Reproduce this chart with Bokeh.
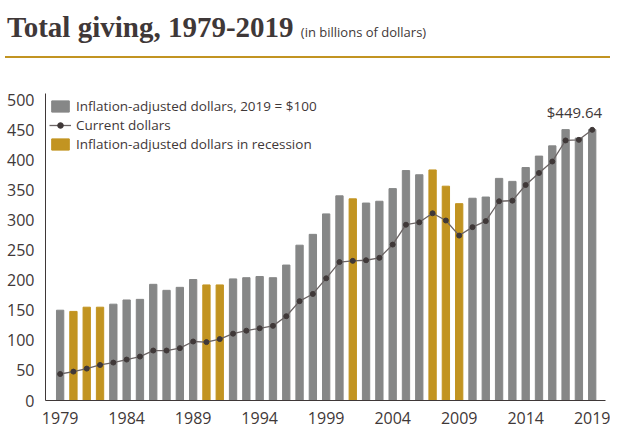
from bokeh.plotting import figure
from bokeh.models import Div, ColumnDataSource, Legend, LegendItem, FixedTicker, Label
from bokeh.layouts import column
from bokeh.embed import file_html
from bokeh.resources import INLINE

years = list(range(1979, 2020))
inflation_adjusted = [150, 148, 155, 155, 160, 167, 168, 193, 183, 188, 201, 192, 192, 202, 204, 206, 204, 225, 258, 276, 310, 340, 335, 328, 331, 352, 382, 375, 383, 356, 327, 336, 338, 369, 364, 387, 406, 423, 450, 436, 450]
current_dollars = [44, 48, 53, 59, 63, 68, 73, 83, 83, 87, 98, 97, 102, 111, 116, 120, 124, 140, 165, 177, 203, 230, 232, 233, 237, 259, 292, 296, 311, 299, 274, 288, 298, 331, 332, 358, 378, 397, 432, 433, 449.64]
recession_years = [1980, 1981, 1982, 1990, 1991, 2001, 2007, 2008, 2009]
tick_years = [1979, 1984, 1989, 1994, 1999, 2004, 2009, 2014, 2019]

GRAY = "#868787"
GOLD = "#c29421"
DARK = "#3f3838"

normal = [(y, v) for y, v in zip(years, inflation_adjusted) if y not in recession_years]
rec = [(y, v) for y, v in zip(years, inflation_adjusted) if y in recession_years]

title = Div(text='<div style="font-family:\'Liberation Serif\',serif;font-weight:bold;font-size:29px;color:#3f3838;padding-left:2px;margin-top:2px;">'
            'Total giving, 1979-2019 <span style="font-family:\'Open Sans\';font-weight:normal;font-size:13px;">(in billions of dollars)</span></div>'
            '<div style="border-top:2px solid #c29421;margin-top:8px;width:605px;"></div>',
            width=610, height=78)

p = figure(width=610, height=338, x_range=(1977.9, 2020), y_range=(0, 510),
           output_backend="svg", toolbar_location=None, min_border_left=45, min_border_top=5)
p.outline_line_color = None
p.grid.grid_line_color = None

b1 = p.vbar(x=[a for a, b in normal], top=[b for a, b in normal], width=0.55, color=GRAY)
b2 = p.vbar(x=[a for a, b in rec], top=[b for a, b in rec], width=0.55, color=GOLD)
l = p.line(years, current_dollars, color="#6b6464", line_width=1.3)
s = p.scatter(years, current_dollars, size=5, color=DARK)

p.add_layout(Label(x=2019, y=462, text="$449.64", text_align="right", x_offset=10,
                   text_font="Open Sans", text_font_size="15px", text_color=DARK))

legend = Legend(items=[LegendItem(label="Inflation-adjusted dollars, 2019 = $100", renderers=[b1]),
                       LegendItem(label="Current dollars", renderers=[l, s]),
                       LegendItem(label="Inflation-adjusted dollars in recession", renderers=[b2])],
                location="top_left", border_line_color=None, background_fill_alpha=0,
                label_text_font="Open Sans", label_text_font_size="13.5px", label_text_color=DARK,
                spacing=1, glyph_height=14, glyph_width=22, label_height=15, padding=0, margin=4)
p.add_layout(legend)

p.xaxis.ticker = FixedTicker(ticks=tick_years)
p.yaxis.ticker = FixedTicker(ticks=list(range(0, 501, 50)))
for ax in (p.xaxis, p.yaxis):
    ax.major_label_text_font = "Open Sans"
    ax.major_label_text_font_size = "16px"
    ax.major_label_text_color = DARK
    ax.axis_line_color = DARK
    ax.major_tick_line_color = None
    ax.minor_tick_line_color = None

out = column(title, p)
open("out.html", "w").write(file_html(out, INLINE))
